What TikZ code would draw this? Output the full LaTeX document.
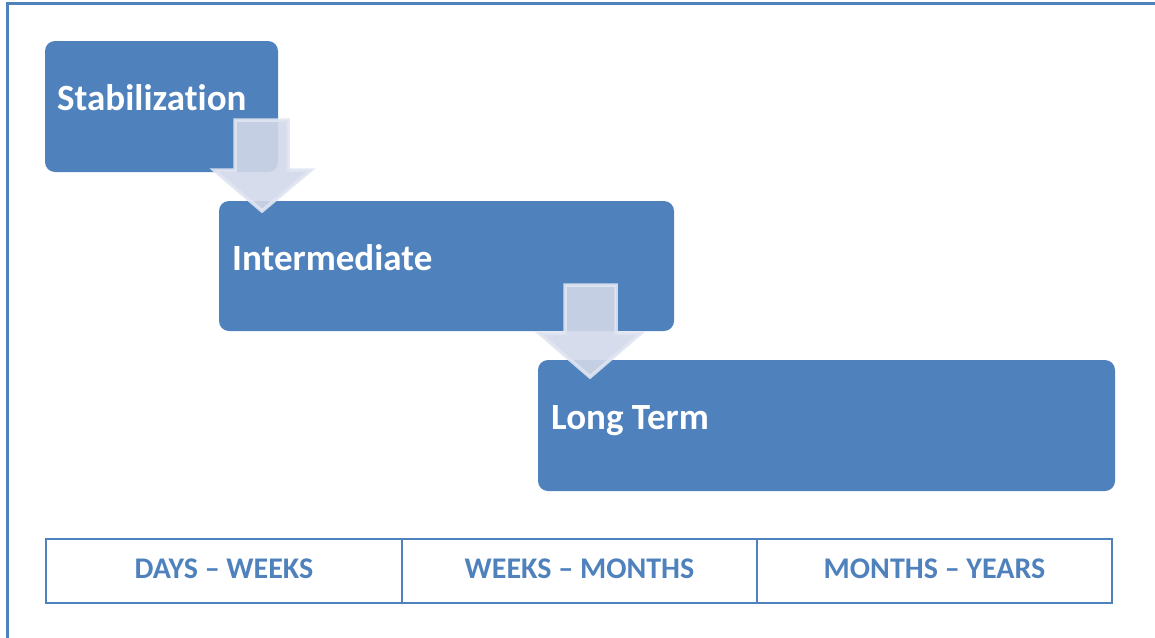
\documentclass[tikz,border=0pt]{standalone}
\usepackage{fontspec}
\setmainfont{Carlito}[RawFeature={-liga}]
\definecolor{boxblue}{RGB}{79,129,189}
\definecolor{framecol}{RGB}{79,129,189}
\definecolor{arrfill}{RGB}{209,216,233}
\definecolor{arrline}{RGB}{224,229,241}
\begin{document}
\begin{tikzpicture}[x=1pt,y=-1pt,
  phase/.style={fill=boxblue, draw=none, rounded corners=10pt},
  phaselabel/.style={anchor=base west, inner sep=0pt, text=white, font=\fontsize{37}{44}\selectfont\bfseries},
  blockarrow/.style={fill=arrfill, fill opacity=0.9, draw=arrline, draw opacity=0.9, line width=3.5pt, line join=miter},
  celltext/.style={anchor=base, inner sep=0pt, text=boxblue, font=\fontsize{30}{36}\selectfont\bfseries}]
\useasboundingbox (0,0) rectangle (1155,637);
% outer frame
\draw[framecol, line width=2.2pt] (7.5,640) -- (7.5,3.5) -- (1160,3.5);
% phase boxes
\fill[phase] (45,41) rectangle (278,172);
\fill[phase] (219,201) rectangle (674,331);
\fill[phase] (538,360) rectangle (1115,491);
\node[phaselabel] (stab) at (57,110) {Stabilization};
\node[phaselabel] (inter) at (232,270) {Intermediate};
\node[phaselabel] (long) at (551,429) {Long Term};
% block arrows
\draw[blockarrow] (235,120) -- (288,120) -- (288,170) -- (311,170) -- (262,211) -- (214,170) -- (235,170) -- cycle;
\draw[blockarrow] (565,285) -- (616,285) -- (616,333) -- (641,333) -- (590,377) -- (539,333) -- (565,333) -- cycle;
% time table
\draw[boxblue, line width=1.8pt] (46,539) rectangle (1112,603);
\draw[boxblue, line width=1.2pt] (402,539) -- (402,603);
\draw[boxblue, line width=1.2pt] (757,539) -- (757,603);
\node[celltext] (c1) at (224,578) {DAYS – WEEKS};
\node[celltext] (c2) at (579.5,578) {WEEKS – MONTHS};
\node[celltext] (c3) at (934.5,578) {MONTHS – YEARS};
\end{tikzpicture}
\end{document}
